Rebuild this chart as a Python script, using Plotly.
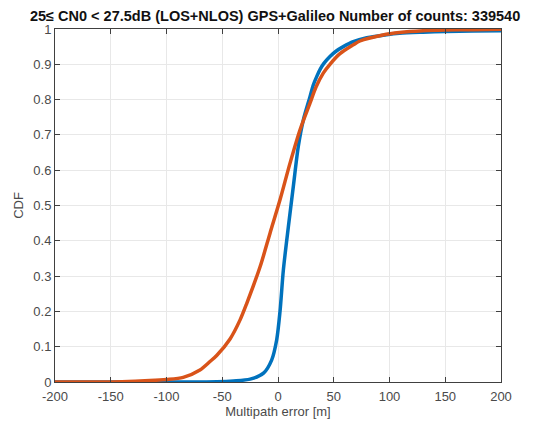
import plotly.graph_objects as go

# Blue curve (series 1)
blue_x = [-200, -100, -55, -40, -25, -13, -5.7, -1.2, 1.8, 4.8, 9.3, 13.7, 18.2, 22.7, 28.7, 31.5, 34.7, 38, 41, 46.6, 52, 58.6, 67.5, 79.6, 97.5, 109, 130, 150, 175, 200]
blue_y = [0.0, 0.0, 0.001, 0.003, 0.008, 0.025, 0.062, 0.119, 0.2, 0.317, 0.44, 0.553, 0.667, 0.742, 0.808, 0.84, 0.865, 0.887, 0.902, 0.922, 0.937, 0.95, 0.964, 0.975, 0.984, 0.988, 0.991, 0.993, 0.994, 0.995]

# Orange curve (series 2)
orange_x = [-200, -140, -115, -100, -85, -70, -61, -55, -43, -34, -28, -16, -7.2, 1.8, 10.8, 19.7, 28.7, 34, 40.6, 46.6, 55.6, 67.5, 73.5, 94, 109, 130, 150, 175, 200]
orange_y = [0.0, 0.001, 0.004, 0.007, 0.013, 0.034, 0.058, 0.075, 0.122, 0.176, 0.223, 0.327, 0.421, 0.516, 0.62, 0.714, 0.79, 0.835, 0.875, 0.9, 0.93, 0.955, 0.966, 0.983, 0.99, 0.995, 0.997, 0.998, 0.999]

x_ticks = [-200, -150, -100, -50, 0, 50, 100, 150, 200]
x_tick_labels = ["-200", "-150", "-100", "-50", "0", "50", "100", "150", "200"]
y_ticks = [0, 0.1, 0.2, 0.3, 0.4, 0.5, 0.6, 0.7, 0.8, 0.9, 1]
y_tick_labels = ["0", "0.1", "0.2", "0.3", "0.4", "0.5", "0.6", "0.7", "0.8", "0.9", "1"]

title_text = "25\u2264 CN0 < 27.5dB (LOS+NLOS) GPS+Galileo Number of counts: 339540"

fig = go.Figure()
fig.add_trace(go.Scatter(x=blue_x, y=blue_y, mode="lines", line=dict(color="#0072BD", width=3.5, shape="spline", smoothing=0.8), showlegend=False))
fig.add_trace(go.Scatter(x=orange_x, y=orange_y, mode="lines", line=dict(color="#D95319", width=3.5, shape="spline", smoothing=0.8), showlegend=False))

axis_common = dict(
    showgrid=True, gridcolor="#e8e8e8", gridwidth=1,
    showline=True, linecolor="#404040", linewidth=1, mirror="ticks",
    ticks="inside", ticklen=5, tickcolor="#404040",
    zeroline=False, automargin=False,
    tickfont=dict(family="Liberation Sans, Arial", size=13, color="#4a4a4a"),
)

fig.update_layout(
    width=531, height=420,
    paper_bgcolor="white", plot_bgcolor="white",
    margin=dict(l=47, r=38, t=21, b=46),
    title=dict(text="<b>" + title_text + "</b>", x=0.503, xanchor="center", y=0.981, yanchor="middle",
               font=dict(family="Liberation Sans, Arial", size=14.5, color="#111111")),
    xaxis=dict(range=[-200, 200], tickvals=x_ticks, ticktext=x_tick_labels, ticklabelstandoff=2,
               title=dict(text="Multipath error [m]", standoff=2, font=dict(family="Liberation Sans, Arial", size=13, color="#4a4a4a")),
               **axis_common),
    yaxis=dict(range=[0, 1], tickvals=y_ticks, ticktext=y_tick_labels,
               title=dict(text="CDF", standoff=6, font=dict(family="Liberation Sans, Arial", size=13, color="#4a4a4a")),
               **axis_common),
)

fig.write_html("out.html")
